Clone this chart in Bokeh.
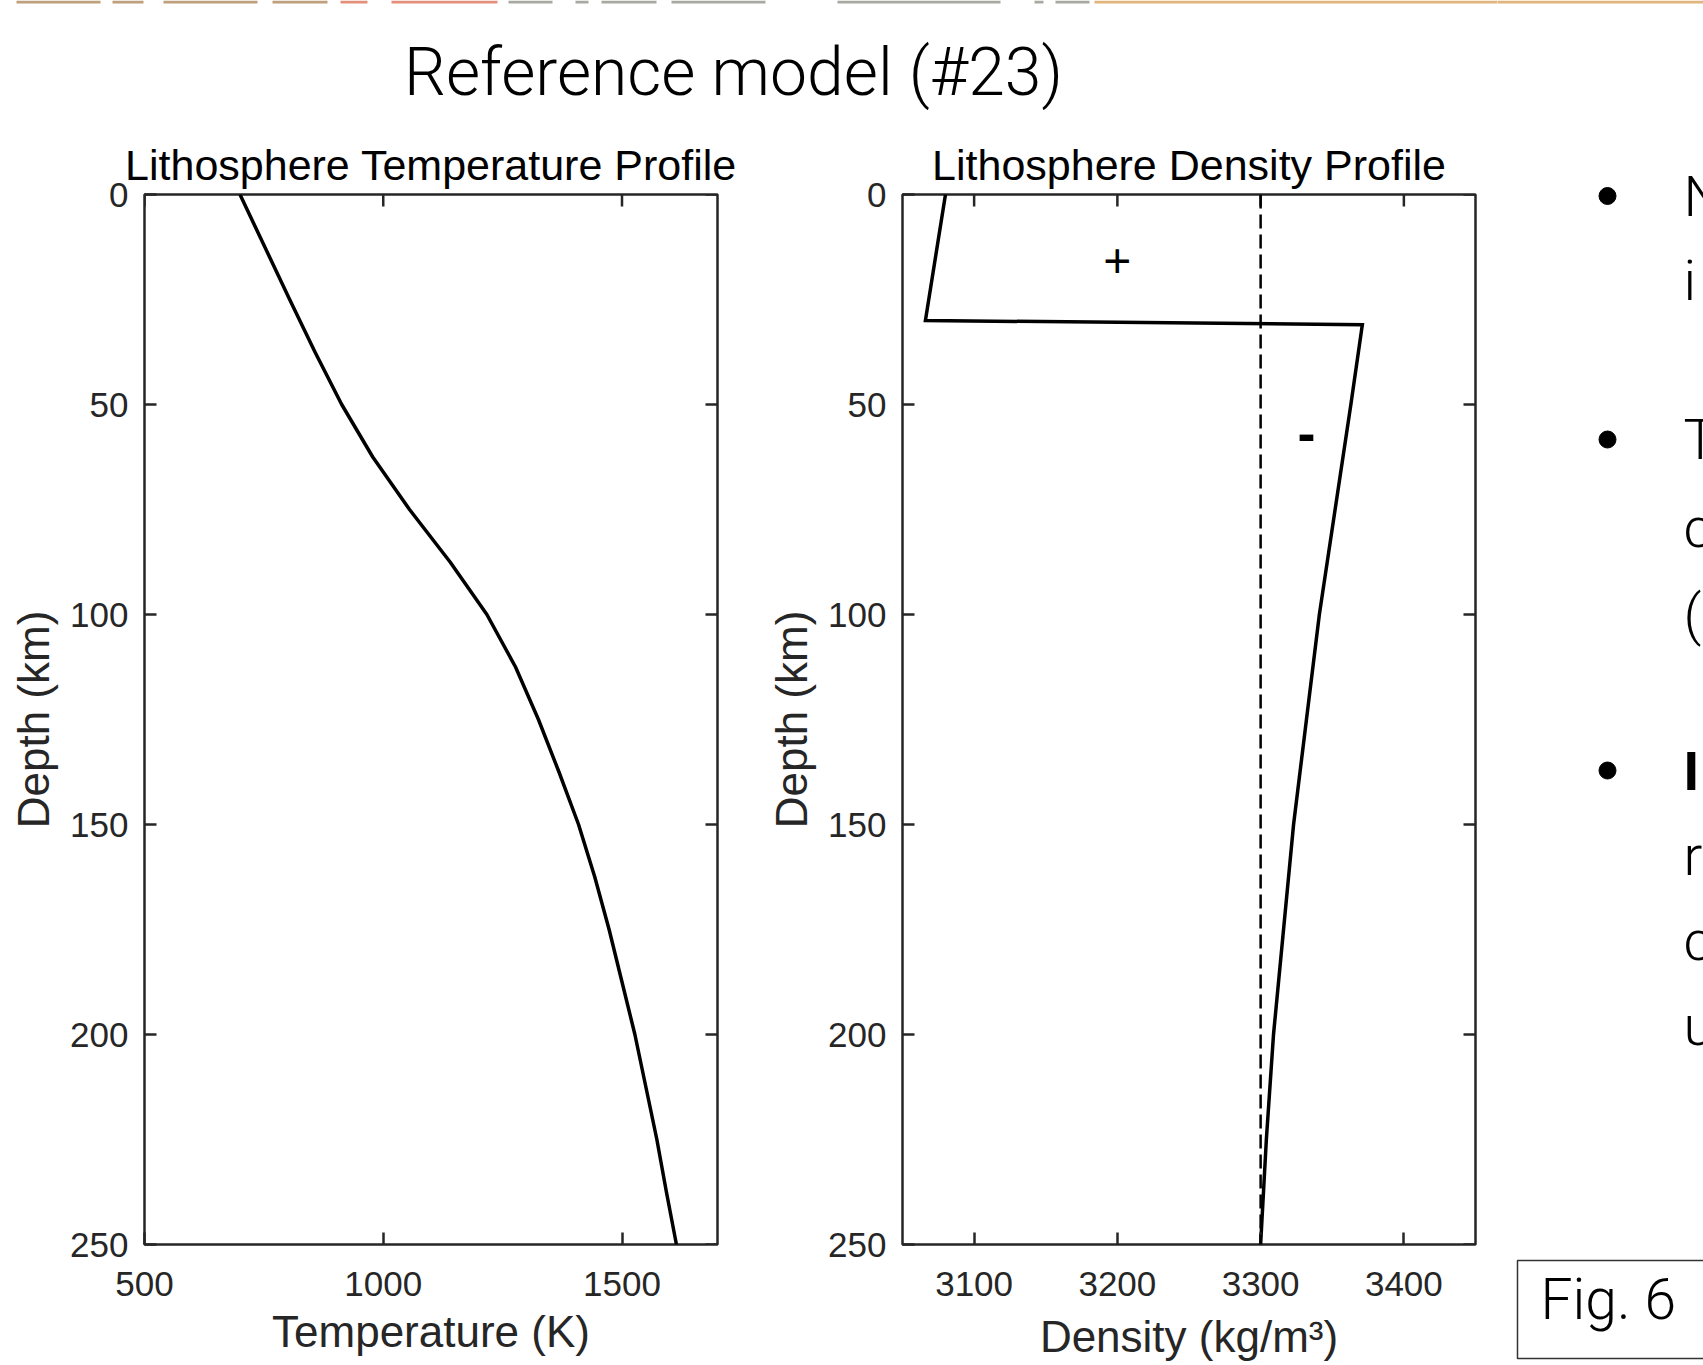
import math
from bokeh.plotting import figure
from bokeh.models import Range1d, FixedTicker, Span
from bokeh.layouts import row, column
from bokeh.core.properties import value
from bokeh.embed import file_html
from bokeh.resources import INLINE

# ---------------- data ----------------
depth_T = [0, 12.5, 25, 37.5, 50, 62.5, 75, 87.5, 100, 112.5, 125, 137.5, 150,
           162.5, 175, 187.5, 200, 212.5, 225, 237.5, 250]
temperature = [700, 752, 804, 857, 913, 978, 1055, 1140, 1217, 1277, 1325, 1368, 1409,
               1443, 1473, 1500, 1527, 1550, 1573, 1593, 1614]

depth_rho = [0, 30, 31, 50, 75, 100, 125, 150, 175, 200, 225, 250]
density = [3080, 3066, 3371, 3363, 3352, 3341, 3332, 3323, 3316, 3309, 3304, 3300]
reference_density = 3300

depth_range = (250, 0)
temp_range = (500, 1700)
dens_range = (3050, 3450)
depth_ticks = [0, 50, 100, 150, 200, 250]
temp_ticks = [500, 1000, 1500]
dens_ticks = [3100, 3200, 3300, 3400]

main_title = "Reference model (#23)"
bullet_lines = ["N", "i", "T", "c", "(", "r", "c", "u"]
bullet_bold = ["I"]
fig_caption = "Fig. 6"

# decorative slide header strip (page x extents)
strip_left = [16, 112, 163, 272, 340, 391, 508, 575, 601, 671, 837, 1034, 1055, 1094]
strip_right = [100, 143, 257, 327, 367, 497, 552, 588, 656, 765, 1000, 1043, 1089, 1703]
strip_color = ["#bea07d"] * 4 + ["#e38f7b"] * 2 + ["#a9a9a2"] * 7 + ["#e2b57c"]

INK = "#262626"
FONT = "Liberation Sans"
LIGHT = "Roboto Light"

PAGE_W, PAGE_H = 1703, 1365
HEAD_H = 110
ROW_H = PAGE_H - HEAD_H
W_T, W_D = 747, 750
W_SIDE = PAGE_W - W_T - W_D


def style_axis(ax, ticks):
    ax.ticker = FixedTicker(ticks=ticks)
    ax.major_tick_in = 12
    ax.major_tick_out = 0
    ax.minor_tick_in = 0
    ax.minor_tick_out = 0
    ax.major_tick_line_color = INK
    ax.major_tick_line_width = 2.5
    ax.axis_line_color = None
    ax.major_label_text_font = FONT
    ax.major_label_text_color = INK
    ax.major_label_text_font_size = "35px"
    ax.axis_label_text_font = FONT
    ax.axis_label_text_font_style = "normal"
    ax.axis_label_text_color = INK
    ax.axis_label_text_font_size = "44px"


def profile_fig(width, xr, xticks, title, xlabel, mb_left, mb_right, xlabel_standoff):
    p = figure(width=width, height=ROW_H, x_range=Range1d(*xr), y_range=Range1d(*depth_range),
               output_backend="svg", toolbar_location=None,
               min_border_left=mb_left, min_border_right=mb_right,
               min_border_top=84, min_border_bottom=121)
    p.grid.visible = False
    p.outline_line_color = INK
    p.outline_line_width = 2.5
    p.outline_line_alpha = 1.0
    p.background_fill_color = "white"
    p.border_fill_color = "white"

    xa, ya = p.below[0], p.left[0]
    style_axis(xa, xticks)
    style_axis(ya, depth_ticks)
    xa.axis_label = xlabel
    xa.major_label_standoff = 27
    xa.axis_label_standoff = xlabel_standoff
    ya.axis_label = "Depth (km)"
    ya.major_label_standoff = 16
    ya.axis_label_standoff = 9

    # inward ticks on the top and right edges of the box (half of each dash is clipped by the frame)
    p.scatter(x=xticks, y=[depth_range[1]] * len(xticks), marker="dash", angle=math.pi / 2,
              size=24, line_color=INK, line_width=2.5)
    p.scatter(x=[xr[1]] * len(depth_ticks), y=depth_ticks, marker="dash",
              size=24, line_color=INK, line_width=2.5)

    p.title.text = title
    p.title.align = "center"
    p.title.text_font = FONT
    p.title.text_font_size = "43px"
    p.title.text_font_style = "normal"
    p.title.text_color = "black"
    p.title.standoff = 12
    return p


def add_strip(fig):
    n = len(strip_left)
    fig.quad(left=strip_left, right=strip_right, top=[0] * n, bottom=[3] * n,
             fill_color=strip_color, line_color=None)


# ---------------- header ----------------
head = figure(width=W_T + W_D, height=HEAD_H, x_range=Range1d(0, W_T + W_D), y_range=Range1d(HEAD_H, 0),
              output_backend="svg", toolbar_location=None, x_axis_type=None, y_axis_type=None,
              min_border=0)
head.outline_line_color = None
head.grid.visible = False
add_strip(head)
head.text(x=[733], y=[72], text=[main_title], text_font=value(LIGHT), text_font_size="66px",
          text_align="center", text_baseline="middle", text_color="black")

# ---------------- temperature profile ----------------
pT = profile_fig(W_T, temp_range, temp_ticks, "Lithosphere Temperature Profile", "Temperature (K)",
                 144, 30, 8)
pT.line(temperature, depth_T, line_color="black", line_width=3.5, line_join="round")

# ---------------- density profile ----------------
pD = profile_fig(W_D, dens_range, dens_ticks, "Lithosphere Density Profile", "Density (kg/m³)",
                 155, 22, 13)
pD.add_layout(Span(location=reference_density, dimension="height", line_color="black",
                   line_width=2.5, line_dash="14 6"))
pD.line(density, depth_rho, line_color="black", line_width=3.5, line_join="miter")
pD.text(x=[3200], y=[15.7], text=["+"], text_font=value(FONT), text_font_size="48px",
        text_align="center", text_baseline="middle", text_color="black")
pD.text(x=[3332], y=[57], text=["-"], text_font=value(FONT), text_font_size="54px",
        text_font_style="bold", text_align="center", text_baseline="middle", text_color="black")

# ---------------- slide text column ----------------
x0 = W_T + W_D
side = figure(width=W_SIDE, height=PAGE_H, x_range=Range1d(x0, PAGE_W), y_range=Range1d(PAGE_H, 0),
              output_backend="svg", toolbar_location=None, x_axis_type=None, y_axis_type=None,
              min_border=0)
side.outline_line_color = None
side.grid.visible = False
add_strip(side)
side.scatter(x=[1607, 1607, 1607], y=[195.5, 439, 770], size=17, color="black")
side.text(x=[1683] * len(bullet_lines), y=[196, 280, 439, 527, 614, 855, 940, 1025],
          text=bullet_lines, text_font=value(LIGHT), text_font_size="56px",
          text_baseline="middle", text_color="black")
side.text(x=[1683], y=[770], text=bullet_bold, text_font=value(FONT), text_font_size="56px",
          text_font_style="bold", text_baseline="middle", text_color="black")
side.quad(left=[1517], right=[1720], top=[1260], bottom=[1358], fill_color=None,
          line_color="#333333", line_width=1.5)
side.text(x=[1540], y=[1299], text=[fig_caption], text_font=value(LIGHT), text_font_size="57px",
          text_baseline="middle", text_color="black")

layout = row(column(head, row(pT, pD)), side)
open("out.html", "w").write(file_html(layout, INLINE))
